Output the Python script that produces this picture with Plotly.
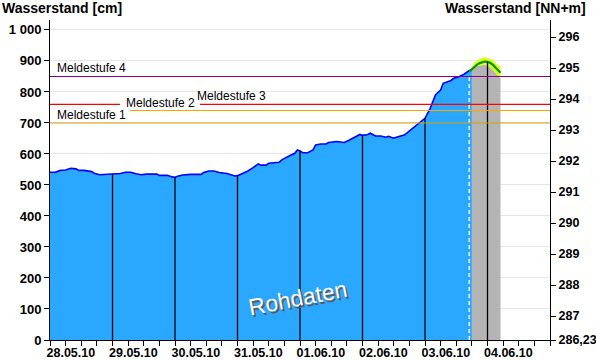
import numpy as np
import pandas as pd
import plotly.graph_objects as go

# ---------------- data ----------------
BASE = pd.Timestamp("2010-05-28 00:00")
PNP = 286.23  # gauge zero [NN+m]

obs_hours = [0, 2, 4, 6, 8, 10, 11, 13, 16, 17, 19, 22, 24, 27, 29, 31, 33, 35, 37, 41, 42, 45, 47, 48,
             49, 51, 54, 58, 59, 61, 63, 65, 68, 70, 71, 72, 74, 76, 78, 80, 81, 83, 84, 88, 89, 90, 92,
             94, 95, 96, 97, 99, 101, 102, 104, 106, 107, 110, 113, 115, 117, 119, 120, 122, 123, 125,
             127, 129, 130, 132, 134, 136, 137, 139, 141, 143, 144, 146, 147, 148, 150, 151, 154, 155,
             157, 159, 161, 162]
obs_cm = [541, 541, 547, 548, 554, 552, 547, 547, 543, 538, 533, 535, 535, 537, 541, 541, 536, 533, 535,
          535, 531, 531, 526, 525, 528, 532, 534, 534, 540, 545, 545, 540, 537, 533, 529, 530, 537, 545,
          556, 568, 564, 564, 570, 573, 581, 586, 594, 602, 613, 610, 604, 604, 613, 629, 632, 632, 637,
          640, 637, 645, 653, 663, 660, 663, 667, 658, 658, 654, 657, 651, 656, 661, 667, 680, 694, 706,
          715, 747, 766, 790, 806, 828, 837, 844, 849, 857, 869, 871]

fc_hours = [161, 162, 163, 164, 165, 166, 167, 168, 169, 170, 171, 172, 173]
fc_cm = [866, 874, 882, 888, 893, 896, 898, 897, 894, 888, 879, 870, 862]
fc_upper = [868, 882, 893, 901, 906, 910, 912, 911, 908, 903, 896, 888, 880]
fc_lower = [864, 872, 878, 883, 886, 887, 887, 885, 880, 872, 862, 852, 843]

ms_names = ["Meldestufe 1", "Meldestufe 2", "Meldestufe 3", "Meldestufe 4"]
ms_levels = [700, 740, 760, 850]
ms_colors = ["#D4A20C", "#FFA500", "#FF0000", "#8B008B"]

day_labels = ["28.05.10", "29.05.10", "30.05.10", "31.05.10",
              "01.06.10", "02.06.10", "03.06.10", "04.06.10"]

left_ticks = [0, 100, 200, 300, 400, 500, 600, 700, 800, 900, 1000]
left_ticktext = ["0", "100", "200", "300", "400", "500", "600", "700", "800", "900", "1 000"]
right_ticks = [286.23, 287, 288, 289, 290, 291, 292, 293, 294, 295, 296]
right_ticktext = ["286,23", "287", "288", "289", "290", "291", "292", "293", "294", "295", "296"]

# ---------------- derived ----------------
def t(h):
    return BASE + pd.to_timedelta(np.asarray(h, dtype=float), unit="h")

obs_t = t(obs_hours)
fc_t = t(fc_hours)
grey_idx = [i for i, h in enumerate(fc_hours) if h >= 162]

fig = go.Figure()

# grey forecast area
fig.add_trace(go.Scatter(x=fc_t[grey_idx], y=[fc_lower[i] for i in grey_idx], mode="lines",
                         line=dict(width=0, color="#B4B4B4"), fill="tozeroy",
                         fillcolor="#B4B4B4", hoverinfo="skip"))
# observed area
fig.add_trace(go.Scatter(x=obs_t, y=obs_cm, mode="lines", line=dict(color="#0000FF", width=1.6),
                         fill="tozeroy", fillcolor="#2AA8FF", hoverinfo="skip"))
# uncertainty band
fig.add_trace(go.Scatter(x=fc_t, y=fc_lower, mode="lines", line=dict(width=0, color="#DDFF1A"),
                         hoverinfo="skip"))
fig.add_trace(go.Scatter(x=fc_t, y=fc_upper, mode="lines", line=dict(width=0, color="#DDFF1A"),
                         fill="tonexty", fillcolor="#DDFF1A", hoverinfo="skip"))
# forecast line
fig.add_trace(go.Scatter(x=fc_t, y=fc_cm, mode="lines", line=dict(color="#009900", width=2.2),
                         hoverinfo="skip"))

# midnight vertical lines up to curve
vx, vy = [], []
for d in range(1, 7):
    h = 24 * d
    top = float(np.interp(h, obs_hours, obs_cm))
    vx += [t([h])[0], t([h])[0], None]
    vy += [0, top, None]
h = 168
top = float(np.interp(h, fc_hours, fc_cm))
vx += [t([h])[0], t([h])[0], None]
vy += [0, top, None]
fig.add_trace(go.Scatter(x=vx, y=vy, mode="lines", line=dict(color="black", width=1.3),
                         hoverinfo="skip"))

# forecast start dashed line
h0 = fc_hours[0]
top0 = float(np.interp(h0, obs_hours, obs_cm)) - 22
fig.add_trace(go.Scatter(x=[t([h0])[0], t([h0])[0]], y=[0, top0], mode="lines",
                         line=dict(color="#E8F6FF", width=1.5, dash="4px,3px"), hoverinfo="skip"))

# invisible trace for the right axis
fig.add_trace(go.Scatter(x=obs_t, y=np.array(obs_cm) / 100 + PNP, yaxis="y2", mode="lines",
                         line=dict(width=0), opacity=0, hoverinfo="skip"))

# Meldestufe lines (with gaps where labels sit)
segments = {0: [(0, 1)], 1: [(0.16, 1)], 2: [(0, 0.14), (0.30, 1)], 3: [(0, 1)]}
for i, lvl in enumerate(ms_levels):
    for x0, x1 in segments[i]:
        fig.add_shape(type="line", xref="paper", yref="y", x0=x0, x1=x1, y0=lvl, y1=lvl,
                      line=dict(color=ms_colors[i], width=1.1), layer="above")

label_x = [0.01, 0.148, 0.29, 0.01]
for i, lvl in enumerate(ms_levels):
    fig.add_annotation(x=label_x[i], xref="paper", y=lvl, yref="y", text=ms_names[i],
                       showarrow=False, xanchor="left", yanchor="bottom", yshift=-1,
                       font=dict(family="Liberation Sans", size=12, color="black"))

# axis titles
bold = dict(family="Liberation Sans", size=13, color="black", weight="bold")
rbold = dict(family="Liberation Sans", size=12.5, color="black", weight="bold")
xbold = dict(family="Liberation Sans", size=12.5, color="black", weight="bold")
title_font = dict(family="Liberation Sans", size=14, color="black", weight="bold")
fig.add_annotation(x=-0.1, xref="paper", y=1.0375, yref="paper", text="Wasserstand [cm]",
                   showarrow=False, xanchor="left", yanchor="middle", font=title_font)
fig.add_annotation(x=1.076, xref="paper", y=1.0375, yref="paper", text="Wasserstand [NN+m]",
                   showarrow=False, xanchor="right", yanchor="middle", font=title_font)

# Rohdaten watermark
for dx, dy, col in [(2, -2, "#5A5A5A"), (0, 0, "white")]:
    fig.add_annotation(x=0.496, xref="paper", y=0.053, yref="paper", text="Rohdaten",
                       showarrow=False, textangle=-11, xshift=dx, yshift=dy,
                       font=dict(family="Liberation Sans", size=23, color=col))

label_pos = t([24 * d + 8 for d in range(8)])
minor_pos = t(list(range(0, 24 * 8 + 1, 6)))

fig.update_layout(
    width=596, height=360,
    margin=dict(l=50, r=46, t=20, b=20),
    plot_bgcolor="white", paper_bgcolor="white",
    showlegend=False,
    xaxis=dict(type="date", range=[BASE, BASE + pd.Timedelta(days=8)], automargin=False,
               tickmode="array", tickvals=label_pos, ticktext=day_labels,
               ticks="outside", ticklen=1, tickcolor="rgba(0,0,0,0)",
               minor=dict(tickmode="array", tickvals=minor_pos, ticks="outside", ticklen=5,
                          tickcolor="black", tickwidth=1, showgrid=False),
               showline=True, linecolor="black", linewidth=1, showgrid=False, zeroline=False,
               tickfont=xbold),
    yaxis=dict(range=[0, 1032], tickmode="array", tickvals=left_ticks, ticktext=left_ticktext,
               automargin=False,
               ticks="outside", ticklen=5, tickcolor="black", showline=True, linecolor="black",
               showgrid=True, gridcolor="#E6E6E6", gridwidth=1, zeroline=False, tickfont=bold),
    yaxis2=dict(overlaying="y", side="right", range=[PNP, PNP + 10.32], tickmode="array",
                automargin=False,
                tickvals=right_ticks, ticktext=right_ticktext, ticks="outside", ticklen=5,
                tickcolor="black", showline=True, linecolor="black", showgrid=False,
                zeroline=False, tickfont=rbold),
)

fig.write_html(
    "out.html",
    config={"displayModeBar": False},
    post_script="document.body.style.margin='0';document.body.style.overflow='hidden';"
                "document.documentElement.style.overflow='hidden';",
)
